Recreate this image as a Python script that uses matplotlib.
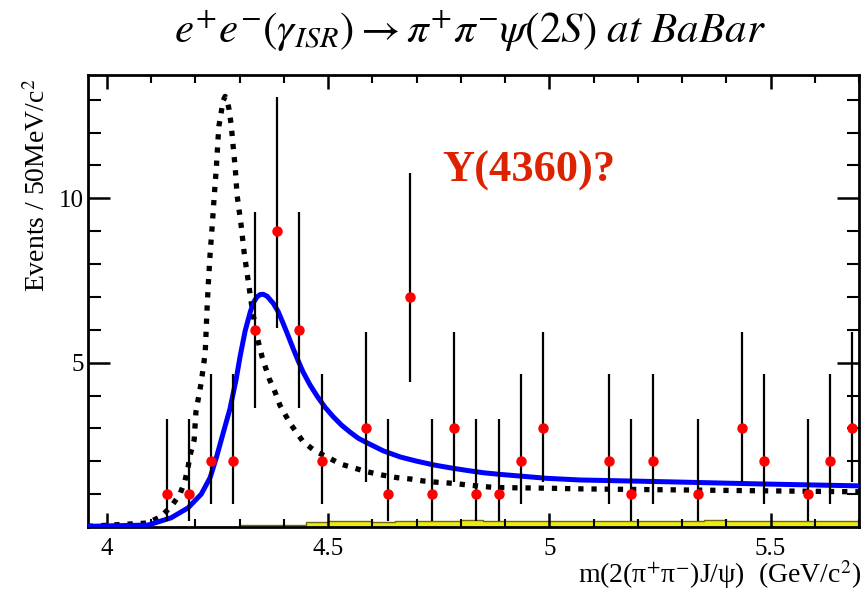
#!/usr/bin/env python3
"""
BaBar ISR pi+pi- psi(2S) mass spectrum with Y(4260)/Y(4360) fit curves
"""

import matplotlib
matplotlib.use("Agg")
import matplotlib.pyplot as plt
import numpy as np

# measured points (bin centres, GeV/c^2) and event counts
mass = [4.135, 4.185, 4.235, 4.285, 4.335, 4.385, 4.435, 4.485, 4.585, 4.635,
        4.685, 4.735, 4.785, 4.835, 4.885, 4.935, 4.985, 5.135, 5.185, 5.235,
        5.335, 5.435, 5.485, 5.585, 5.635, 5.685]
events = [1, 1, 2, 2, 6, 9, 6, 2, 3, 1,
          7, 1, 3, 1, 1, 2, 3, 2, 1, 2,
          1, 3, 2, 1, 2, 3]
# ends of the error bars
bar_lo = [0.17, 0.17, 0.71, 0.71, 3.62, 6.05, 3.62, 0.71, 1.37, 0.17,
          4.42, 0.17, 1.37, 0.17, 0.17, 0.71, 1.37, 0.71, 0.17, 0.71,
          0.17, 1.37, 0.71, 0.17, 0.71, 1.37]
bar_hi = [3.30, 3.30, 4.64, 4.64, 9.58, 13.08, 9.58, 4.64, 5.92, 3.30,
          10.77, 3.30, 5.92, 3.30, 3.30, 4.64, 5.92, 4.64, 3.30, 4.64,
          3.30, 5.92, 4.64, 3.30, 4.64, 5.92]

# dotted curve (Y(4260)-like shape)
dot_x = [3.957, 4.09, 4.12, 4.145, 4.165, 4.176, 4.183, 4.188, 4.197, 4.201,
         4.213, 4.222, 4.226, 4.229, 4.233, 4.238, 4.242, 4.247, 4.251, 4.253,
         4.258, 4.262, 4.267, 4.272, 4.276, 4.281, 4.285, 4.29, 4.294, 4.303,
         4.31, 4.319, 4.328, 4.339, 4.351, 4.367, 4.38, 4.391, 4.414, 4.443,
         4.471, 4.498, 4.527, 4.557, 4.588, 4.622, 4.656, 4.686, 4.715, 4.747,
         4.781, 4.814, 4.851, 4.882, 5.0, 5.07, 5.35, 5.705]
dot_y = [0.02, 0.12, 0.3, 0.62, 1.0, 1.4, 1.8, 2.2, 2.65, 3.5,
         4.4, 5.3, 6.6, 7.4, 8.3, 9.2, 10.0, 10.9, 11.8, 12.2,
         12.6, 12.95, 13.1, 12.95, 12.7, 12.2, 11.6, 10.9, 10.1, 9.2,
         8.35, 7.5, 6.65, 5.8, 5.15, 4.5, 4.1, 3.7, 3.15, 2.6,
         2.3, 2.13, 1.92, 1.8, 1.68, 1.58, 1.5, 1.46, 1.4, 1.36,
         1.33, 1.28, 1.23, 1.2, 1.18, 1.16, 1.12, 1.07]

# solid blue curve (Y(4360) fit)
fit_x = [3.957, 4.093, 4.145, 4.183, 4.213, 4.233, 4.247, 4.262, 4.278, 4.292,
         4.301, 4.312, 4.324, 4.332, 4.339, 4.346, 4.353, 4.362, 4.376, 4.387,
         4.398, 4.41, 4.421, 4.432, 4.443, 4.459, 4.475, 4.493, 4.511, 4.53,
         4.55, 4.568, 4.588, 4.624, 4.663, 4.701, 4.738, 4.776, 4.814, 4.851,
         4.889, 4.995, 5.07, 5.251, 5.477, 5.705]
fit_y = [0.02, 0.06, 0.28, 0.58, 1.0, 1.5, 2.1, 2.83, 3.6, 4.5,
         5.2, 5.95, 6.55, 6.85, 7.0, 7.07, 7.08, 7.02, 6.8, 6.55,
         6.2, 5.8, 5.42, 5.06, 4.72, 4.32, 3.98, 3.64, 3.36, 3.1,
         2.88, 2.7, 2.56, 2.32, 2.13, 2.0, 1.89, 1.8, 1.72, 1.65,
         1.6, 1.48, 1.43, 1.38, 1.31, 1.25]

# small yellow background histogram
band_edges = [4.30, 4.35, 4.40, 4.45, 4.50, 4.55, 4.60, 4.65, 4.70, 4.75,
              4.80, 4.85, 4.90, 4.95, 5.00, 5.05, 5.10, 5.15, 5.20, 5.25,
              5.30, 5.35, 5.40, 5.45, 5.50, 5.55, 5.60, 5.65, 5.70]
band_vals = [0.05, 0.06, 0.07, 0.15, 0.17, 0.18, 0.16, 0.19, 0.18, 0.17,
             0.2, 0.19, 0.18, 0.17, 0.19, 0.18, 0.17, 0.18, 0.19, 0.17,
             0.18, 0.2, 0.19, 0.18, 0.17, 0.19, 0.18, 0.17]

x_ticks = [4, 4.5, 5, 5.5]
x_tick_labels = ['4', '4.5', '5', '5.5']
y_ticks = [5, 10]


def main():
    plt.rcParams['font.family'] = ['Liberation Serif', 'DejaVu Serif']
    plt.rcParams['mathtext.fontset'] = 'stix'

    fig = plt.figure(figsize=(8.61, 5.92), dpi=100)
    ax = fig.add_axes([0.1022, 0.1098, 0.8955, 0.7635])

    ax.stairs(band_vals, band_edges, fill=True, color='#ecea10', zorder=1)
    ax.stairs(band_vals, band_edges, color='#6e6a10', linewidth=1.0, zorder=1.1)

    ax.plot(fit_x, fit_y, color='#0000ff', linewidth=3.6, zorder=3)
    ax.plot(dot_x, dot_y, color='black', linewidth=3.8, linestyle=(0, (1, 1.5)),
            zorder=2)

    ev = np.array(events, dtype=float)
    yerr = [ev - np.array(bar_lo), np.array(bar_hi) - ev]
    ax.errorbar(mass, events, yerr=yerr, fmt='none', ecolor='black',
                elinewidth=1.6, capsize=0, zorder=4)
    ax.plot(mass, events, 'o', color='#ff0000', markersize=6.5, zorder=5)

    ax.text(4.757, 10.85, 'Y(4360)?', color='#dd2200', fontsize=32,
            fontweight='bold', ha='left', va='center')

    ax.set_xlim(3.957, 5.70)
    ax.set_ylim(0, 13.75)
    ax.set_xticks(x_ticks)
    ax.set_xticklabels(x_tick_labels)
    ax.set_xticks(np.arange(4.0, 5.71, 0.1), minor=True)
    ax.set_yticks(y_ticks)
    ax.set_yticks(range(1, 14), minor=True)

    ax.tick_params(axis='x', which='major', direction='in', length=10, width=1.8,
                   top=True, labelsize=18, pad=8)
    ax.tick_params(axis='x', which='minor', direction='in', length=6, width=1.5,
                   top=True)
    ax.tick_params(axis='y', which='major', direction='in', length=16, width=1.8,
                   right=True, labelsize=18, pad=3)
    ax.tick_params(axis='y', which='minor', direction='in', length=9, width=1.5,
                   right=True)
    for s in ax.spines.values():
        s.set_linewidth(2)

    fig.text(470 / 861, 1 - 31 / 592,
             r'$e^{+}e^{-}(\gamma_{ISR}) \rightarrow \pi^{+}\pi^{-}\psi(2S)\ at\ BaBar$',
             fontsize=31, ha='center', va='center')
    fig.text(38 / 861, 1 - 78 / 592, r'Events / 50MeV/c$^{2}$', fontsize=20,
             rotation=90, ha='center', va='top')
    fig.text(861 / 861, 1 - 575 / 592,
             r'm(2(π$^{+}$π$^{-}$)J/ψ)  (GeV/c$^{2}$)', fontsize=20,
             ha='right', va='center')

    fig.savefig('out.png', dpi=100)
    plt.close(fig)


if __name__ == "__main__":
    main()
